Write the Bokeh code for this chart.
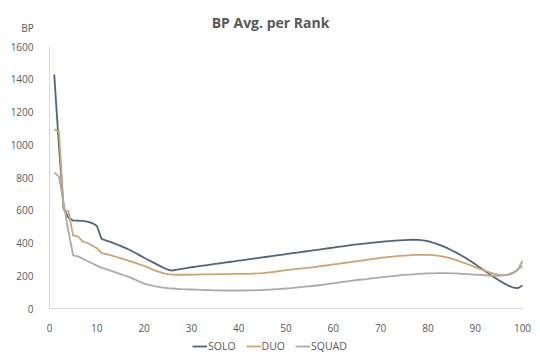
from bokeh.plotting import figure
from bokeh.models import Range1d, Label, Legend, LegendItem, FixedTicker
from bokeh.embed import file_html
from bokeh.resources import INLINE

ranks = list(range(1, 101))

solo = [1430, 990, 610, 555, 537, 537, 535, 530, 522, 505,
        425, 415, 405, 394, 382, 370, 357, 342, 326, 310,
        295, 280, 265, 250, 238, 232, 237, 242, 247, 252,
        256, 260, 264, 268, 272, 276, 280, 284, 288, 292,
        296, 300, 304, 308, 312, 316, 320, 324, 328, 332,
        336, 340, 344, 348, 352, 356, 360, 364, 368, 372,
        376, 380, 384, 388, 392, 395, 398, 401, 404, 407,
        410, 412, 414, 416, 418, 419, 420, 419, 416, 411,
        403, 393, 382, 370, 356, 341, 325, 308, 290, 271,
        251, 231, 211, 191, 172, 155, 140, 128, 124, 140]

duo = [1095, 1080, 600, 595, 445, 440, 410, 400, 385, 368,
       338, 332, 325, 316, 307, 298, 289, 280, 270, 260,
       248, 236, 225, 216, 210, 207, 206, 206, 206, 207,
       207, 208, 208, 209, 209, 210, 210, 210, 211, 211,
       212, 212, 213, 214, 216, 219, 222, 226, 230, 234,
       237, 240, 243, 246, 250, 253, 257, 261, 265, 269,
       273, 277, 281, 285, 289, 293, 297, 301, 305, 309,
       312, 315, 318, 321, 323, 325, 327, 328, 328, 328,
       326, 323, 318, 312, 304, 295, 285, 275, 264, 253,
       242, 231, 221, 213, 207, 204, 206, 215, 235, 290]

squad = [830, 805, 640, 470, 325, 318, 305, 290, 276, 262,
         250, 240, 230, 220, 210, 200, 190, 178, 165, 152,
         145, 138, 132, 127, 124, 122, 120, 118, 117, 116,
         115, 114, 113, 112, 111, 111, 110, 110, 110, 110,
         110, 111, 111, 112, 113, 115, 116, 118, 120, 122,
         124, 127, 130, 133, 136, 139, 142, 146, 150, 154,
         158, 162, 166, 170, 174, 177, 180, 184, 187, 190,
         193, 196, 199, 202, 205, 207, 209, 211, 213, 214,
         215, 216, 216, 216, 215, 214, 212, 211, 209, 207,
         205, 203, 201, 200, 200, 202, 208, 220, 238, 260]

series_names = ["SOLO", "DUO", "SQUAD"]
y_ticks = [0, 200, 400, 600, 800, 1000, 1200, 1400, 1600]
x_ticks = [0, 10, 20, 30, 40, 50, 60, 70, 80, 90, 100]
title_text = "BP Avg. per Rank"
y_unit = "BP"

colors = ["#4E6580", "#CFA46C", "#ABABAB"]
FONT = "Open Sans"
TXT = "#595959"

# frame covers whole canvas; axes drawn at fixed locations
XS = 4.73      # px per rank unit
YS = 0.16375   # px per BP unit
x0_px, y0_px = 49, 308
p = figure(width=540, height=354, output_backend="svg", toolbar_location=None,
           x_range=Range1d(-x0_px / XS, (540 - x0_px) / XS),
           y_range=Range1d(-(354 - y0_px) / YS, y0_px / YS),
           min_border=0)
p.outline_line_color = None
p.xgrid.visible = False
p.ygrid.visible = False
p.background_fill_color = "white"
p.border_fill_color = "white"

for ax in (p.xaxis[0], p.yaxis[0]):
    ax.axis_line_color = "#D9D9D9"
    ax.axis_line_width = 1
    ax.major_tick_line_color = None
    ax.minor_tick_line_color = None
    ax.major_label_text_font = FONT
    ax.major_label_text_font_size = "10px"
    ax.major_label_text_color = TXT
    ax.fixed_location = 0
p.yaxis[0].ticker = FixedTicker(ticks=y_ticks)
p.xaxis[0].ticker = FixedTicker(ticks=x_ticks)
p.yaxis[0].bounds = (0, 1600)
p.xaxis[0].bounds = (0, 100)
p.yaxis[0].major_label_standoff = 10
p.xaxis[0].major_label_standoff = 9

renderers = []
for name, vals, c in zip(series_names, [solo, duo, squad], colors):
    r = p.line(ranks, vals, line_color=c, line_width=1.8)
    renderers.append((name, r))

legend = Legend(items=[LegendItem(label=n, renderers=[r]) for n, r in renderers],
                orientation="horizontal", location=(192, 1),
                glyph_width=15, glyph_height=10, label_standoff=1, spacing=10,
                padding=0, margin=0, border_line_color=None,
                background_fill_alpha=0,
                label_text_font=FONT, label_text_font_size="10.5px",
                label_text_color=TXT)
p.add_layout(legend, "center")

p.add_layout(Label(x=(270 - x0_px) / XS, y=(y0_px - 22) / YS, text=title_text,
                   text_align="center", text_baseline="middle", text_font=FONT,
                   text_font_size="14px", text_font_style="bold", text_color=TXT))
p.add_layout(Label(x=(27 - x0_px) / XS, y=(y0_px - 27) / YS, text=y_unit,
                   text_align="center", text_baseline="middle", text_font=FONT,
                   text_font_size="10px", text_color=TXT))

open("out.html", "w").write(file_html(p, INLINE))
